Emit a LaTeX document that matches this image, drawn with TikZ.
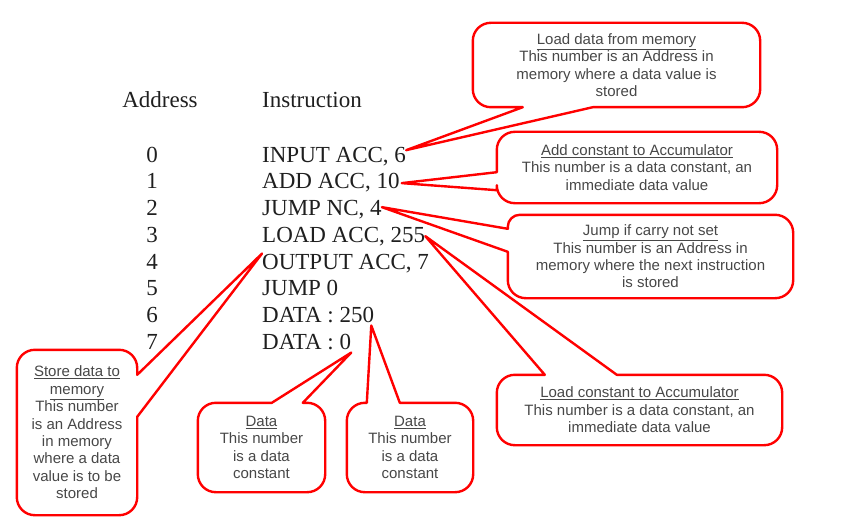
\documentclass[tikz,border=0pt]{standalone}
\usepackage{fontspec}
\setmainfont{Liberation Serif}
\newfontfamily\notefont{Liberation Sans}
\usetikzlibrary{calc}
\usetikzlibrary{positioning}

\begin{document}
\begin{tikzpicture}[x=1pt,y=-1pt,line join=round,every node/.style={inner sep=0pt,text=black!88}]
\tikzstyle{addr} = [anchor=base,font=\fontsize{23}{26}\selectfont]
\tikzstyle{code} = [anchor=base west,font=\fontsize{23}{26}\selectfont]
\tikzstyle{note} = [align=center,text=black!72,font=\notefont\fontsize{15}{17.4}\selectfont]
\tikzstyle{balloon} = [draw=red,line width=2.4pt,rounded corners=18pt]
\useasboundingbox (0,0) rectangle (854,532);

\node[addr] (ah) at (160,108) {Address};
\node[code] (ih) at (262,108) {Instruction};

\node[addr] (a0) at (152,162) {0};
\node[addr] (a1) at (152,189) {1};
\node[addr] (a2) at (152,215) {2};
\node[addr] (a3) at (152,242) {3};
\node[addr] (a4) at (152,269) {4};
\node[addr] (a5) at (152,295) {5};
\node[addr] (a6) at (152,322) {6};
\node[addr] (a7) at (152,349) {7};

\node[code] (i0) at (262,162) {INPUT ACC, 6};
\node[code] (i1) at (262,189) {ADD ACC, 10};
\node[code] (i2) at (262,215) {JUMP NC, 4};
\node[code] (i3) at (262,242) {LOAD ACC, 255};
\node[code] (i4) at (262,269) {OUTPUT ACC, 7};
\node[code] (i5) at (262,295) {JUMP 0};
\node[code] (i6) at (262,322) {DATA : 250};
\node[code] (i7) at (262,349) {DATA : 0};

\coordinate (pA) at ([yshift=6pt]i0.east);
\coordinate (pB) at ([xshift=2pt]i1.east);
\coordinate (pC) at ([yshift=2pt]i2.east);
\coordinate (pD) at (i3.east);
\coordinate (pE) at (i4.north west);
\coordinate (pF) at ([yshift=-3pt]i7.south east);
\coordinate (pG) at ([xshift=-3pt,yshift=-3pt]i6.south east);

\node[note,minimum width=287pt,minimum height=84pt] (bA) at (616.5,65) {\underline{Load data from memory}\\This number is an Address in\\memory where a data value is\\stored};
\node[note,minimum width=280pt,minimum height=71pt] (bB) at (637,167.5) {\underline{Add constant to Accumulator}\\This number is a data constant, an\\immediate data value};
\node[note,minimum width=285pt,minimum height=83pt] (bC) at (650.5,256.5) {\underline{Jump if carry not set}\\This number is an Address in\\memory where the next instruction\\is stored};
\node[note,minimum width=285pt,minimum height=70pt] (bD) at (639.5,410) {\underline{Load constant to Accumulator}\\This number is a data constant, an\\immediate data value};
\node[note,minimum width=120pt,minimum height=165pt] (bE) at (77,432.5) {\underline{Store data to}\\\underline{memory}\\This number\\is an Address\\in memory\\where a data\\value is to be\\stored};
\node[note,minimum width=127pt,minimum height=89pt] (bF) at (261.5,447.5) {\underline{Data}\\This number\\is a data\\constant};
\node[note,minimum width=126pt,minimum height=89pt] (bG) at (410,447.5) {\underline{Data}\\This number\\is a data\\constant};

\draw[balloon] (bA.west) -- (bA.north west) -- (bA.north east) -- (bA.south east) [sharp corners] -- ([xshift=120pt]bA.south west) -- (pA) -- ([xshift=50pt]bA.south west) [rounded corners=18pt] -- (bA.south west) -- cycle;
\draw[balloon] (bB.north) -- (bB.north east) -- (bB.south east) -- (bB.south west) [sharp corners] -- ([yshift=13pt]bB.south west) -- (pB) -- ([yshift=31pt]bB.south west) [rounded corners=18pt] -- (bB.north west) -- cycle;
\draw[balloon] (bC.north) -- (bC.north east) -- (bC.south east) -- (bC.south west) [sharp corners] -- ([yshift=-37pt]bC.north west) -- (pC) -- ([yshift=-14pt]bC.north west) [rounded corners=12pt] -- (bC.north west) [rounded corners=18pt] -- cycle;
\draw[balloon] (bD.east) -- (bD.north east) [sharp corners] -- ([xshift=120pt]bD.north west) -- (pD) -- ([xshift=48pt]bD.north west) [rounded corners=18pt] -- (bD.north west) -- (bD.south west) -- (bD.south east) -- cycle;
\draw[balloon] (bE.south) -- (bE.south east) [sharp corners] -- ([yshift=-67pt]bE.north east) -- (pE) -- ([yshift=-25pt]bE.north east) [rounded corners=18pt] -- (bE.north east) -- (bE.north west) -- (bE.south west) -- cycle;
\draw[balloon] (bF.south) -- (bF.south east) -- (bF.north east) [sharp corners] -- ([xshift=105pt]bF.north west) -- (pF) -- ([xshift=74pt]bF.north west) [rounded corners=18pt] -- (bF.north west) -- (bF.south west) -- cycle;
\draw[balloon] (bG.south) -- (bG.south east) -- (bG.north east) [sharp corners] -- ([xshift=53pt]bG.north west) -- (pG) -- ([xshift=20pt]bG.north west) [rounded corners=18pt] -- (bG.north west) -- (bG.south west) -- cycle;
\end{tikzpicture}
\end{document}
